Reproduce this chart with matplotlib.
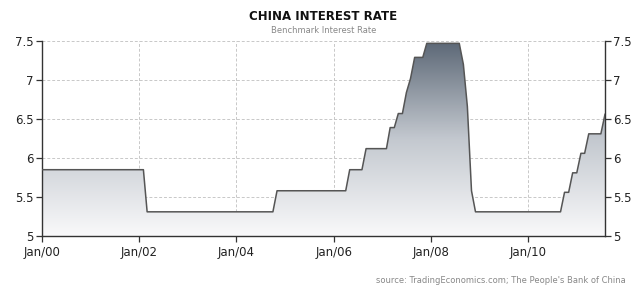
import numpy as np
import pandas as pd
import matplotlib
matplotlib.use('Agg')
import matplotlib.pyplot as plt
import matplotlib.dates as mdates
from matplotlib.colors import LinearSegmentedColormap

# ===================== DATA =====================
# corners of the monthly rate line (month, benchmark rate %)
months = ['2000-01', '2002-02', '2002-03', '2004-10', '2004-11', '2006-04', '2006-05',
          '2006-08', '2006-09', '2007-02', '2007-03', '2007-04', '2007-05', '2007-06',
          '2007-07', '2007-08', '2007-09', '2007-11', '2007-12', '2008-08', '2008-09',
          '2008-10', '2008-11', '2008-12', '2010-09', '2010-10', '2010-11', '2010-12',
          '2011-01', '2011-02', '2011-03', '2011-04', '2011-07', '2011-08']
rates = [5.85, 5.85, 5.31, 5.31, 5.58, 5.58, 5.85,
         5.85, 6.12, 6.12, 6.39, 6.39, 6.57, 6.57,
         6.84, 7.02, 7.29, 7.29, 7.47, 7.47, 7.20,
         6.66, 5.58, 5.31, 5.31, 5.56, 5.56, 5.81,
         5.81, 6.06, 6.06, 6.31, 6.31, 6.56]
tick_years = ['2000', '2002', '2004', '2006', '2008', '2010']
tick_labels = ['Jan/00', 'Jan/02', 'Jan/04', 'Jan/06', 'Jan/08', 'Jan/10']
y_ticks = [5, 5.5, 6, 6.5, 7, 7.5]

title = 'CHINA INTEREST RATE'
subtitle = 'Benchmark Interest Rate'
source = "source: TradingEconomics.com; The People's Bank of China"

# ===================== PLOT =====================
x = mdates.date2num(pd.to_datetime(months))
y = np.array(rates)
xmin, xmax = x[0], x[-1]
ymin, ymax = 5, 7.5

fig = plt.figure(figsize=(6.4, 2.95), dpi=100)
ax = fig.add_axes([0.0656, 0.2, 0.8797, 0.661])

# gradient fill under the line
cmap = LinearSegmentedColormap.from_list('slate', ['#f9f9fa', '#c3c8cf', '#5c6776'])
grad = np.linspace(0, 1, 256).reshape(-1, 1)
img = ax.imshow(grad, extent=[xmin, xmax, ymin, ymax], origin='lower',
                aspect='auto', cmap=cmap, zorder=1)
poly = ax.fill_between(x, y, ymin, color='none', lw=0)
img.set_clip_path(poly.get_paths()[0], transform=ax.transData)

ax.plot(x, y, color='#555555', lw=1.1, zorder=3)

ax.set_xlim(xmin, xmax)
ax.set_ylim(ymin, ymax)

ax.set_xticks(mdates.date2num(pd.to_datetime(tick_years)))
ax.set_xticklabels(tick_labels)
ax.set_yticks(y_ticks)
ax.set_yticklabels(['5', '5.5', '6', '6.5', '7', '7.5'])

ax.grid(True, color='#c8c8c8', ls=(0, (3, 2)), lw=0.7, zorder=0)
ax.set_axisbelow(True)

for s in ['left', 'right', 'bottom']:
    ax.spines[s].set_color('#333333')
    ax.spines[s].set_linewidth(1.0)
ax.spines['top'].set_visible(False)

ax.tick_params(axis='both', direction='out', length=4, width=0.9, color='#333333',
               labelsize=8.5, labelcolor='#222222')
ax.tick_params(axis='x', pad=3)
ax.tick_params(axis='y', left=True, right=True, labelleft=True, labelright=True, pad=2)

fig.text(0.505, 0.945, title, ha='center', va='center', fontsize=8.5,
         fontweight='bold', color='#111111',
         family=['DejaVu Sans Condensed', 'DejaVu Sans'])
fig.text(0.505, 0.895, subtitle, ha='center', va='center', fontsize=6, color='#888888')
fig.text(0.977, 0.048, source, ha='right', va='center', fontsize=6, color='#888888')

fig.savefig('out.png', dpi=100)
